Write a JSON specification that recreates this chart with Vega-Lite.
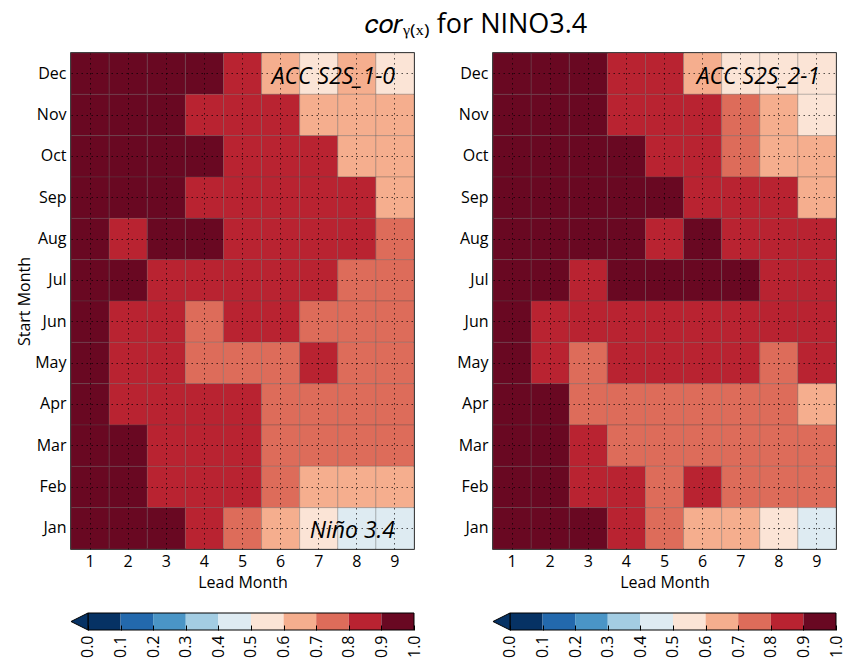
{
  "$schema": "https://vega.github.io/schema/vega-lite/v6.json",
  "background": "white",
  "padding": {"left": 15, "top": 10, "right": 4, "bottom": 2},
  "title": {"text": "𝑐𝑜𝑟ᵧ₍ₓ₎  for NINO3.4", "fontSize": 27, "font": "Open Sans", "fontWeight": "normal", "anchor": "middle", "offset": 13, "dx": 46, "color": "black"},
  "config": {
    "font": "Open Sans",
    "view": {"stroke": null},
    "axis": {"labelColor": "black", "titleColor": "black", "labelFont": "Open Sans", "titleFont": "Open Sans", "titleFontWeight": "normal", "labelOverlap": false}
  },
  "datasets": {
    "cells": [
      {"p":"a","m":"Dec","l":1,"v":0.95},{"p":"a","m":"Dec","l":2,"v":0.95},{"p":"a","m":"Dec","l":3,"v":0.95},{"p":"a","m":"Dec","l":4,"v":0.95},{"p":"a","m":"Dec","l":5,"v":0.85},{"p":"a","m":"Dec","l":6,"v":0.65},{"p":"a","m":"Dec","l":7,"v":0.55},{"p":"a","m":"Dec","l":8,"v":0.65},{"p":"a","m":"Dec","l":9,"v":0.55},
      {"p":"a","m":"Nov","l":1,"v":0.95},{"p":"a","m":"Nov","l":2,"v":0.95},{"p":"a","m":"Nov","l":3,"v":0.95},{"p":"a","m":"Nov","l":4,"v":0.85},{"p":"a","m":"Nov","l":5,"v":0.85},{"p":"a","m":"Nov","l":6,"v":0.85},{"p":"a","m":"Nov","l":7,"v":0.65},{"p":"a","m":"Nov","l":8,"v":0.65},{"p":"a","m":"Nov","l":9,"v":0.65},
      {"p":"a","m":"Oct","l":1,"v":0.95},{"p":"a","m":"Oct","l":2,"v":0.95},{"p":"a","m":"Oct","l":3,"v":0.95},{"p":"a","m":"Oct","l":4,"v":0.95},{"p":"a","m":"Oct","l":5,"v":0.85},{"p":"a","m":"Oct","l":6,"v":0.85},{"p":"a","m":"Oct","l":7,"v":0.85},{"p":"a","m":"Oct","l":8,"v":0.65},{"p":"a","m":"Oct","l":9,"v":0.65},
      {"p":"a","m":"Sep","l":1,"v":0.95},{"p":"a","m":"Sep","l":2,"v":0.95},{"p":"a","m":"Sep","l":3,"v":0.95},{"p":"a","m":"Sep","l":4,"v":0.85},{"p":"a","m":"Sep","l":5,"v":0.85},{"p":"a","m":"Sep","l":6,"v":0.85},{"p":"a","m":"Sep","l":7,"v":0.85},{"p":"a","m":"Sep","l":8,"v":0.85},{"p":"a","m":"Sep","l":9,"v":0.65},
      {"p":"a","m":"Aug","l":1,"v":0.95},{"p":"a","m":"Aug","l":2,"v":0.85},{"p":"a","m":"Aug","l":3,"v":0.95},{"p":"a","m":"Aug","l":4,"v":0.95},{"p":"a","m":"Aug","l":5,"v":0.85},{"p":"a","m":"Aug","l":6,"v":0.85},{"p":"a","m":"Aug","l":7,"v":0.85},{"p":"a","m":"Aug","l":8,"v":0.85},{"p":"a","m":"Aug","l":9,"v":0.75},
      {"p":"a","m":"Jul","l":1,"v":0.95},{"p":"a","m":"Jul","l":2,"v":0.95},{"p":"a","m":"Jul","l":3,"v":0.85},{"p":"a","m":"Jul","l":4,"v":0.85},{"p":"a","m":"Jul","l":5,"v":0.85},{"p":"a","m":"Jul","l":6,"v":0.85},{"p":"a","m":"Jul","l":7,"v":0.85},{"p":"a","m":"Jul","l":8,"v":0.75},{"p":"a","m":"Jul","l":9,"v":0.75},
      {"p":"a","m":"Jun","l":1,"v":0.95},{"p":"a","m":"Jun","l":2,"v":0.85},{"p":"a","m":"Jun","l":3,"v":0.85},{"p":"a","m":"Jun","l":4,"v":0.75},{"p":"a","m":"Jun","l":5,"v":0.85},{"p":"a","m":"Jun","l":6,"v":0.85},{"p":"a","m":"Jun","l":7,"v":0.75},{"p":"a","m":"Jun","l":8,"v":0.75},{"p":"a","m":"Jun","l":9,"v":0.75},
      {"p":"a","m":"May","l":1,"v":0.95},{"p":"a","m":"May","l":2,"v":0.85},{"p":"a","m":"May","l":3,"v":0.85},{"p":"a","m":"May","l":4,"v":0.75},{"p":"a","m":"May","l":5,"v":0.75},{"p":"a","m":"May","l":6,"v":0.75},{"p":"a","m":"May","l":7,"v":0.85},{"p":"a","m":"May","l":8,"v":0.75},{"p":"a","m":"May","l":9,"v":0.75},
      {"p":"a","m":"Apr","l":1,"v":0.95},{"p":"a","m":"Apr","l":2,"v":0.85},{"p":"a","m":"Apr","l":3,"v":0.85},{"p":"a","m":"Apr","l":4,"v":0.85},{"p":"a","m":"Apr","l":5,"v":0.85},{"p":"a","m":"Apr","l":6,"v":0.75},{"p":"a","m":"Apr","l":7,"v":0.75},{"p":"a","m":"Apr","l":8,"v":0.75},{"p":"a","m":"Apr","l":9,"v":0.75},
      {"p":"a","m":"Mar","l":1,"v":0.95},{"p":"a","m":"Mar","l":2,"v":0.95},{"p":"a","m":"Mar","l":3,"v":0.85},{"p":"a","m":"Mar","l":4,"v":0.85},{"p":"a","m":"Mar","l":5,"v":0.85},{"p":"a","m":"Mar","l":6,"v":0.75},{"p":"a","m":"Mar","l":7,"v":0.75},{"p":"a","m":"Mar","l":8,"v":0.75},{"p":"a","m":"Mar","l":9,"v":0.75},
      {"p":"a","m":"Feb","l":1,"v":0.95},{"p":"a","m":"Feb","l":2,"v":0.95},{"p":"a","m":"Feb","l":3,"v":0.85},{"p":"a","m":"Feb","l":4,"v":0.85},{"p":"a","m":"Feb","l":5,"v":0.85},{"p":"a","m":"Feb","l":6,"v":0.75},{"p":"a","m":"Feb","l":7,"v":0.65},{"p":"a","m":"Feb","l":8,"v":0.65},{"p":"a","m":"Feb","l":9,"v":0.65},
      {"p":"a","m":"Jan","l":1,"v":0.95},{"p":"a","m":"Jan","l":2,"v":0.95},{"p":"a","m":"Jan","l":3,"v":0.95},{"p":"a","m":"Jan","l":4,"v":0.85},{"p":"a","m":"Jan","l":5,"v":0.75},{"p":"a","m":"Jan","l":6,"v":0.65},{"p":"a","m":"Jan","l":7,"v":0.55},{"p":"a","m":"Jan","l":8,"v":0.45},{"p":"a","m":"Jan","l":9,"v":0.45},
      {"p":"b","m":"Dec","l":1,"v":0.95},{"p":"b","m":"Dec","l":2,"v":0.95},{"p":"b","m":"Dec","l":3,"v":0.95},{"p":"b","m":"Dec","l":4,"v":0.85},{"p":"b","m":"Dec","l":5,"v":0.85},{"p":"b","m":"Dec","l":6,"v":0.65},{"p":"b","m":"Dec","l":7,"v":0.55},{"p":"b","m":"Dec","l":8,"v":0.55},{"p":"b","m":"Dec","l":9,"v":0.55},
      {"p":"b","m":"Nov","l":1,"v":0.95},{"p":"b","m":"Nov","l":2,"v":0.95},{"p":"b","m":"Nov","l":3,"v":0.95},{"p":"b","m":"Nov","l":4,"v":0.85},{"p":"b","m":"Nov","l":5,"v":0.85},{"p":"b","m":"Nov","l":6,"v":0.85},{"p":"b","m":"Nov","l":7,"v":0.75},{"p":"b","m":"Nov","l":8,"v":0.65},{"p":"b","m":"Nov","l":9,"v":0.55},
      {"p":"b","m":"Oct","l":1,"v":0.95},{"p":"b","m":"Oct","l":2,"v":0.95},{"p":"b","m":"Oct","l":3,"v":0.95},{"p":"b","m":"Oct","l":4,"v":0.95},{"p":"b","m":"Oct","l":5,"v":0.85},{"p":"b","m":"Oct","l":6,"v":0.85},{"p":"b","m":"Oct","l":7,"v":0.75},{"p":"b","m":"Oct","l":8,"v":0.65},{"p":"b","m":"Oct","l":9,"v":0.65},
      {"p":"b","m":"Sep","l":1,"v":0.95},{"p":"b","m":"Sep","l":2,"v":0.95},{"p":"b","m":"Sep","l":3,"v":0.95},{"p":"b","m":"Sep","l":4,"v":0.95},{"p":"b","m":"Sep","l":5,"v":0.95},{"p":"b","m":"Sep","l":6,"v":0.85},{"p":"b","m":"Sep","l":7,"v":0.85},{"p":"b","m":"Sep","l":8,"v":0.85},{"p":"b","m":"Sep","l":9,"v":0.65},
      {"p":"b","m":"Aug","l":1,"v":0.95},{"p":"b","m":"Aug","l":2,"v":0.95},{"p":"b","m":"Aug","l":3,"v":0.95},{"p":"b","m":"Aug","l":4,"v":0.95},{"p":"b","m":"Aug","l":5,"v":0.85},{"p":"b","m":"Aug","l":6,"v":0.95},{"p":"b","m":"Aug","l":7,"v":0.85},{"p":"b","m":"Aug","l":8,"v":0.85},{"p":"b","m":"Aug","l":9,"v":0.85},
      {"p":"b","m":"Jul","l":1,"v":0.95},{"p":"b","m":"Jul","l":2,"v":0.95},{"p":"b","m":"Jul","l":3,"v":0.85},{"p":"b","m":"Jul","l":4,"v":0.95},{"p":"b","m":"Jul","l":5,"v":0.95},{"p":"b","m":"Jul","l":6,"v":0.95},{"p":"b","m":"Jul","l":7,"v":0.95},{"p":"b","m":"Jul","l":8,"v":0.85},{"p":"b","m":"Jul","l":9,"v":0.85},
      {"p":"b","m":"Jun","l":1,"v":0.95},{"p":"b","m":"Jun","l":2,"v":0.85},{"p":"b","m":"Jun","l":3,"v":0.85},{"p":"b","m":"Jun","l":4,"v":0.85},{"p":"b","m":"Jun","l":5,"v":0.85},{"p":"b","m":"Jun","l":6,"v":0.85},{"p":"b","m":"Jun","l":7,"v":0.85},{"p":"b","m":"Jun","l":8,"v":0.85},{"p":"b","m":"Jun","l":9,"v":0.85},
      {"p":"b","m":"May","l":1,"v":0.95},{"p":"b","m":"May","l":2,"v":0.85},{"p":"b","m":"May","l":3,"v":0.75},{"p":"b","m":"May","l":4,"v":0.85},{"p":"b","m":"May","l":5,"v":0.85},{"p":"b","m":"May","l":6,"v":0.85},{"p":"b","m":"May","l":7,"v":0.85},{"p":"b","m":"May","l":8,"v":0.75},{"p":"b","m":"May","l":9,"v":0.85},
      {"p":"b","m":"Apr","l":1,"v":0.95},{"p":"b","m":"Apr","l":2,"v":0.95},{"p":"b","m":"Apr","l":3,"v":0.75},{"p":"b","m":"Apr","l":4,"v":0.75},{"p":"b","m":"Apr","l":5,"v":0.75},{"p":"b","m":"Apr","l":6,"v":0.75},{"p":"b","m":"Apr","l":7,"v":0.75},{"p":"b","m":"Apr","l":8,"v":0.75},{"p":"b","m":"Apr","l":9,"v":0.65},
      {"p":"b","m":"Mar","l":1,"v":0.95},{"p":"b","m":"Mar","l":2,"v":0.95},{"p":"b","m":"Mar","l":3,"v":0.85},{"p":"b","m":"Mar","l":4,"v":0.75},{"p":"b","m":"Mar","l":5,"v":0.75},{"p":"b","m":"Mar","l":6,"v":0.75},{"p":"b","m":"Mar","l":7,"v":0.75},{"p":"b","m":"Mar","l":8,"v":0.75},{"p":"b","m":"Mar","l":9,"v":0.75},
      {"p":"b","m":"Feb","l":1,"v":0.95},{"p":"b","m":"Feb","l":2,"v":0.95},{"p":"b","m":"Feb","l":3,"v":0.85},{"p":"b","m":"Feb","l":4,"v":0.85},{"p":"b","m":"Feb","l":5,"v":0.75},{"p":"b","m":"Feb","l":6,"v":0.85},{"p":"b","m":"Feb","l":7,"v":0.75},{"p":"b","m":"Feb","l":8,"v":0.75},{"p":"b","m":"Feb","l":9,"v":0.75},
      {"p":"b","m":"Jan","l":1,"v":0.95},{"p":"b","m":"Jan","l":2,"v":0.95},{"p":"b","m":"Jan","l":3,"v":0.95},{"p":"b","m":"Jan","l":4,"v":0.85},{"p":"b","m":"Jan","l":5,"v":0.75},{"p":"b","m":"Jan","l":6,"v":0.65},{"p":"b","m":"Jan","l":7,"v":0.65},{"p":"b","m":"Jan","l":8,"v":0.55},{"p":"b","m":"Jan","l":9,"v":0.45}
    ],
    "notes": [
      {"p":"a","m":"Dec","l":9,"t":"ACC S2S_1-0"},
      {"p":"a","m":"Jan","l":9,"t":"Niño 3.4"},
      {"p":"b","m":"Dec","l":9,"t":"ACC S2S_2-1"}
    ],
    "cbar": [
      {"lo":0.0,"hi":0.1,"v":0.05},{"lo":0.1,"hi":0.2,"v":0.15},{"lo":0.2,"hi":0.3,"v":0.25},{"lo":0.3,"hi":0.4,"v":0.35},{"lo":0.4,"hi":0.5,"v":0.45},
      {"lo":0.5,"hi":0.6,"v":0.55},{"lo":0.6,"hi":0.7,"v":0.65},{"lo":0.7,"hi":0.8,"v":0.75},{"lo":0.8,"hi":0.9,"v":0.85},{"lo":0.9,"hi":1.0,"v":0.95}
    ]
  },
  "spacing": 33,
  "hconcat": [
    {
      "spacing": 20,
      "vconcat": [
        {
          "width": 343, "height": 496,
          "view": {"stroke": "black", "strokeWidth": 1.5},
          "layer": [
            {
              "data": {"name": "cells"},
              "transform": [{"filter": "datum.p == 'a'"}],
              "mark": {"type": "rect", "stroke": "#555555", "strokeWidth": 0.6, "strokeOpacity": 0.5},
              "encoding": {
                "x": {"field": "l", "type": "ordinal", "scale": {"paddingInner": 0, "paddingOuter": 0},
                  "axis": {"title": "Lead Month", "labelAngle": 0, "labelFontSize": 16, "titleFontSize": 16, "grid": true, "gridDash": [1.5, 3.5], "gridColor": "black", "gridOpacity": 0.65, "ticks": false, "domain": false, "labelPadding": 4, "titlePadding": 5, "bandPosition": 0.5, "zindex": 1}},
                "y": {"field": "m", "type": "ordinal", "sort": ["Dec","Nov","Oct","Sep","Aug","Jul","Jun","May","Apr","Mar","Feb","Jan"], "scale": {"paddingInner": 0, "paddingOuter": 0},
                  "axis": {"title": "Start Month", "labelFontSize": 16, "titleFontSize": 16, "grid": true, "gridDash": [1.5, 3.5], "gridColor": "black", "gridOpacity": 0.65, "ticks": false, "domain": false, "labelPadding": 5, "titlePadding": 2, "bandPosition": 0.5, "zindex": 1}},
                "color": {"field": "v", "type": "quantitative", "legend": null,
                  "scale": {"type": "threshold", "domain": [0.1,0.2,0.3,0.4,0.5,0.6,0.7,0.8,0.9], "range": ["#063264","#2369ad","#4a95c6","#a3cde3","#deebf2","#fbe4d6","#f5ae8e","#dd6c5a","#b92331","#690822"]}}
              }
            },
            {
              "data": {"name": "notes"},
              "transform": [{"filter": "datum.p == 'a'"}],
              "mark": {"type": "text", "align": "right", "baseline": "middle", "fontSize": 23, "fontStyle": "italic", "font": "Open Sans", "dx": -19, "dy": 3, "color": "black"},
              "encoding": {
                "x": {"field": "l", "type": "ordinal", "bandPosition": 1},
                "y": {"field": "m", "type": "ordinal", "sort": ["Dec","Nov","Oct","Sep","Aug","Jul","Jun","May","Apr","Mar","Feb","Jan"]},
                "text": {"field": "t"}
              }
            }
          ]
        },
        {
          "width": 343, "height": 17,
          "layer": [
            {
              "data": {"name": "cbar"},
              "mark": {"type": "rect"},
              "encoding": {
                "x": {"field": "lo", "type": "quantitative", "scale": {"domain": [-0.052, 1], "nice": false, "zero": false},
                  "axis": {"title": null, "values": [0,0.1,0.2,0.3,0.4,0.5,0.6,0.7,0.8,0.9,1.0], "format": ".1f", "labelAngle": -90, "labelFontSize": 16, "grid": false, "domain": false, "ticks": true, "tickSize": -5, "tickColor": "black", "tickWidth": 1, "labelPadding": 10, "labelOverlap": false, "labelBound": false, "labelFlush": false, "zindex": 1}},
                "x2": {"field": "hi"},
                "color": {"field": "v", "type": "quantitative", "legend": null,
                  "scale": {"type": "threshold", "domain": [0.1,0.2,0.3,0.4,0.5,0.6,0.7,0.8,0.9], "range": ["#063264","#2369ad","#4a95c6","#a3cde3","#deebf2","#fbe4d6","#f5ae8e","#dd6c5a","#b92331","#690822"]}}
              }
            },
            {
              "data": {"values": [{"a": 0, "b": 1}]},
              "mark": {"type": "rect", "fill": "transparent", "stroke": "black", "strokeWidth": 1},
              "encoding": {"x": {"field": "a", "type": "quantitative",
                  "axis": {"title": null, "values": [0,0.1,0.2,0.3,0.4,0.5,0.6,0.7,0.8,0.9,1.0], "format": ".1f", "labelAngle": -90, "labelFontSize": 16, "grid": false, "domain": false, "ticks": true, "tickSize": -5, "tickColor": "black", "tickWidth": 1, "labelPadding": 10, "labelOverlap": false, "labelBound": false, "labelFlush": false, "zindex": 1}}, "x2": {"field": "b"}}
            },
            {
              "data": {"values": [{"a": -0.026}]},
              "mark": {"type": "point", "shape": "M 1 -1 L -1 0 L 1 1 Z", "filled": true, "size": 289, "fill": "#063264", "stroke": "black", "strokeWidth": 1, "opacity": 1},
              "encoding": {"x": {"field": "a", "type": "quantitative",
                  "axis": {"title": null, "values": [0,0.1,0.2,0.3,0.4,0.5,0.6,0.7,0.8,0.9,1.0], "format": ".1f", "labelAngle": -90, "labelFontSize": 16, "grid": false, "domain": false, "ticks": true, "tickSize": -5, "tickColor": "black", "tickWidth": 1, "labelPadding": 10, "labelOverlap": false, "labelBound": false, "labelFlush": false, "zindex": 1}}}
            }
          ]
        }
      ]
    },
    {
      "spacing": 20,
      "vconcat": [
        {
          "width": 343, "height": 496,
          "view": {"stroke": "black", "strokeWidth": 1.5},
          "layer": [
            {
              "data": {"name": "cells"},
              "transform": [{"filter": "datum.p == 'b'"}],
              "mark": {"type": "rect", "stroke": "#555555", "strokeWidth": 0.6, "strokeOpacity": 0.5},
              "encoding": {
                "x": {"field": "l", "type": "ordinal", "scale": {"paddingInner": 0, "paddingOuter": 0},
                  "axis": {"title": "Lead Month", "labelAngle": 0, "labelFontSize": 16, "titleFontSize": 16, "grid": true, "gridDash": [1.5, 3.5], "gridColor": "black", "gridOpacity": 0.65, "ticks": false, "domain": false, "labelPadding": 4, "titlePadding": 5, "bandPosition": 0.5, "zindex": 1}},
                "y": {"field": "m", "type": "ordinal", "sort": ["Dec","Nov","Oct","Sep","Aug","Jul","Jun","May","Apr","Mar","Feb","Jan"], "scale": {"paddingInner": 0, "paddingOuter": 0},
                  "axis": {"title": null, "labelFontSize": 16, "grid": true, "gridDash": [1.5, 3.5], "gridColor": "black", "gridOpacity": 0.65, "ticks": false, "domain": false, "labelPadding": 5, "bandPosition": 0.5, "zindex": 1}},
                "color": {"field": "v", "type": "quantitative", "legend": null,
                  "scale": {"type": "threshold", "domain": [0.1,0.2,0.3,0.4,0.5,0.6,0.7,0.8,0.9], "range": ["#063264","#2369ad","#4a95c6","#a3cde3","#deebf2","#fbe4d6","#f5ae8e","#dd6c5a","#b92331","#690822"]}}
              }
            },
            {
              "data": {"name": "notes"},
              "transform": [{"filter": "datum.p == 'b'"}],
              "mark": {"type": "text", "align": "right", "baseline": "middle", "fontSize": 23, "fontStyle": "italic", "font": "Open Sans", "dx": -16, "dy": 3, "color": "black"},
              "encoding": {
                "x": {"field": "l", "type": "ordinal", "bandPosition": 1},
                "y": {"field": "m", "type": "ordinal", "sort": ["Dec","Nov","Oct","Sep","Aug","Jul","Jun","May","Apr","Mar","Feb","Jan"]},
                "text": {"field": "t"}
              }
            }
          ]
        },
        {
          "width": 343, "height": 17,
          "layer": [
            {
              "data": {"name": "cbar"},
              "mark": {"type": "rect"},
              "encoding": {
                "x": {"field": "lo", "type": "quantitative", "scale": {"domain": [-0.052, 1], "nice": false, "zero": false},
                  "axis": {"title": null, "values": [0,0.1,0.2,0.3,0.4,0.5,0.6,0.7,0.8,0.9,1.0], "format": ".1f", "labelAngle": -90, "labelFontSize": 16, "grid": false, "domain": false, "ticks": true, "tickSize": -5, "tickColor": "black", "tickWidth": 1, "labelPadding": 10, "labelOverlap": false, "labelBound": false, "labelFlush": false, "zindex": 1}},
                "x2": {"field": "hi"},
                "color": {"field": "v", "type": "quantitative", "legend": null,
                  "scale": {"type": "threshold", "domain": [0.1,0.2,0.3,0.4,0.5,0.6,0.7,0.8,0.9], "range": ["#063264","#2369ad","#4a95c6","#a3cde3","#deebf2","#fbe4d6","#f5ae8e","#dd6c5a","#b92331","#690822"]}}
              }
            },
            {
              "data": {"values": [{"a": 0, "b": 1}]},
              "mark": {"type": "rect", "fill": "transparent", "stroke": "black", "strokeWidth": 1},
              "encoding": {"x": {"field": "a", "type": "quantitative",
                  "axis": {"title": null, "values": [0,0.1,0.2,0.3,0.4,0.5,0.6,0.7,0.8,0.9,1.0], "format": ".1f", "labelAngle": -90, "labelFontSize": 16, "grid": false, "domain": false, "ticks": true, "tickSize": -5, "tickColor": "black", "tickWidth": 1, "labelPadding": 10, "labelOverlap": false, "labelBound": false, "labelFlush": false, "zindex": 1}}, "x2": {"field": "b"}}
            },
            {
              "data": {"values": [{"a": -0.026}]},
              "mark": {"type": "point", "shape": "M 1 -1 L -1 0 L 1 1 Z", "filled": true, "size": 289, "fill": "#063264", "stroke": "black", "strokeWidth": 1, "opacity": 1},
              "encoding": {"x": {"field": "a", "type": "quantitative",
                  "axis": {"title": null, "values": [0,0.1,0.2,0.3,0.4,0.5,0.6,0.7,0.8,0.9,1.0], "format": ".1f", "labelAngle": -90, "labelFontSize": 16, "grid": false, "domain": false, "ticks": true, "tickSize": -5, "tickColor": "black", "tickWidth": 1, "labelPadding": 10, "labelOverlap": false, "labelBound": false, "labelFlush": false, "zindex": 1}}}
            }
          ]
        }
      ]
    }
  ]
}
